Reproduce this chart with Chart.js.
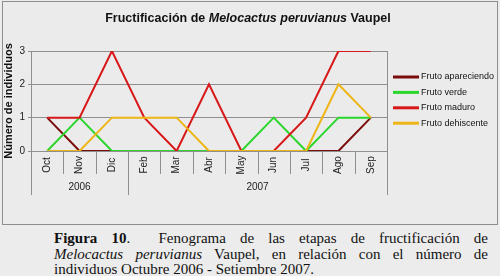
<!DOCTYPE html>
<html>
<head>
<meta charset="utf-8">
<script src="https://cdn.jsdelivr.net/npm/chart.js@4"></script>
<style>
    body { margin: 0; background: #ececec; width: 500px; height: 276px; overflow: hidden; position: relative; font-family: "Liberation Sans", Arial, sans-serif; }
    #frame { position: absolute; left: 2px; top: 1px; width: 494px; height: 222px; border: 1px solid #8e8e8e; background: #ebebeb; }
    #chart { position: absolute; left: 0; top: 0; }
    #title { position: absolute; left: 0; top: 9px; width: 490px; text-align: center; font-weight: bold; font-size: 12.5px; color: #111; }
    #caption { position: absolute; left: 54px; top: 231px; width: 434px; font-family: "Liberation Serif", "Times New Roman", serif; font-size: 15px; line-height: 15.5px; color: #111; }
    #caption div { text-align: justify; text-align-last: justify; white-space: nowrap; }
    #caption div.last { text-align: left; text-align-last: left; }
</style>
</head>
<body>
<div id="frame">
    <canvas id="chart" width="494" height="222"></canvas>
    <div id="title">Fructificación de <i>Melocactus peruvianus</i> Vaupel</div>
</div>
<div id="caption">
    <div><b>Figura 10</b>.&nbsp; Fenograma de las etapas de fructificación de</div>
    <div><i>Melocactus peruvianus</i> Vaupel, en relación con el número de</div>
    <div class="last">individuos Octubre 2006 - Setiembre 2007.</div>
</div>

<script>
const months = ['Oct', 'Nov', 'Dic', 'Feb', 'Mar', 'Abr', 'May', 'Jun', 'Jul', 'Ago', 'Sep'];
const years = ['2006', '2007'];
const yearSpans = [3, 8];
const yTicks = [0, 1, 2, 3];

const frutoApareciendo = [1, 0, 0, 0, 0, 0, 0, 0, 0, 0, 1];
const frutoVerde = [0, 1, 0, 0, 0, 0, 0, 1, 0, 1, 1];
const frutoMaduro = [1, 1, 3, 1, 0, 2, 0, 0, 1, 3, 3];
const frutoDehiscente = [0, 0, 1, 1, 1, 0, 0, 0, 0, 2, 1];

const gridColor = '#8f8f8f';

// eje x con meses y años, y la leyenda a la derecha
const decoPlugin = {
    id: 'deco',
    afterDraw(chart) {
        const ctx = chart.ctx;
        const area = chart.chartArea;
        const x = chart.scales.x;
        const step = (area.right - area.left) / months.length;
        const bottom = area.bottom;

        ctx.save();
        ctx.strokeStyle = gridColor;
        ctx.lineWidth = 1;

        // bordes verticales largos
        [area.left, area.right].forEach(px => {
            ctx.beginPath();
            ctx.moveTo(Math.round(px) + 0.5, area.top);
            ctx.lineTo(Math.round(px) + 0.5, bottom + 44);
            ctx.stroke();
        });

        // separadores entre meses
        let yearBounds = [0];
        yearSpans.forEach(s => yearBounds.push(yearBounds[yearBounds.length - 1] + s));
        for (let i = 1; i < months.length; i++) {
            const px = Math.round(x.getPixelForValue(i) - step / 2) + 0.5;
            const len = yearBounds.includes(i) ? 44 : 23;
            ctx.beginPath();
            ctx.moveTo(px, bottom);
            ctx.lineTo(px, bottom + len);
            ctx.stroke();
        }

        // meses rotados
        ctx.fillStyle = '#222';
        ctx.font = '10px "Liberation Sans", Arial, sans-serif';
        ctx.textAlign = 'center';
        ctx.textBaseline = 'middle';
        months.forEach((m, i) => {
            ctx.save();
            ctx.translate(x.getPixelForValue(i), bottom + 14);
            ctx.rotate(-Math.PI / 2);
            ctx.fillText(m, 0, 0);
            ctx.restore();
        });

        // años
        years.forEach((yr, j) => {
            const a = x.getPixelForValue(yearBounds[j]) - step / 2;
            const b = x.getPixelForValue(yearBounds[j + 1] - 1) + step / 2;
            ctx.fillText(yr, (a + b) / 2, bottom + 36);
        });

        // leyenda
        ctx.textAlign = 'left';
        ctx.font = '9px "Liberation Sans", Arial, sans-serif';
        chart.data.datasets.forEach((ds, i) => {
            const ly = area.top + 26 + i * 15.4;
            ctx.strokeStyle = ds.borderColor;
            ctx.lineWidth = 3;
            ctx.beginPath();
            ctx.moveTo(area.right + 6, ly);
            ctx.lineTo(area.right + 32, ly);
            ctx.stroke();
            ctx.fillStyle = '#111';
            ctx.fillText(ds.label, area.right + 34, ly);
        });
        ctx.restore();
    }
};

const ctx = document.getElementById('chart').getContext('2d');
new Chart(ctx, {
    type: 'line',
    data: {
        labels: months,
        datasets: [
            {label: 'Fruto apareciendo', data: frutoApareciendo, borderColor: '#7a0c0c', order: 4},
            {label: 'Fruto verde', data: frutoVerde, borderColor: '#2bd62b', order: 3},
            {label: 'Fruto maduro', data: frutoMaduro, borderColor: '#d81818', order: 2},
            {label: 'Fruto dehiscente', data: frutoDehiscente, borderColor: '#eeb516', order: 1}
        ]
    },
    options: {
        responsive: false,
        animation: false,
        events: [],
        elements: {
            line: {borderWidth: 2, tension: 0},
            point: {radius: 0}
        },
        layout: {padding: {left: 0, right: 110, top: 49, bottom: 0}},
        plugins: {
            legend: {display: false},
            tooltip: {enabled: false}
        },
        scales: {
            x: {
                offset: true,
                grid: {display: false},
                border: {display: false},
                ticks: {display: false},
                afterFit: function (scale) { scale.height = 73; }
            },
            y: {
                min: 0,
                max: 3,
                afterBuildTicks: function (scale) { scale.ticks = yTicks.map(v => ({value: v})); },
                afterFit: function (scale) { scale.width = 28; },
                grid: {color: gridColor, tickLength: 3},
                border: {color: gridColor},
                ticks: {
                    padding: 3,
                    color: '#222',
                    font: {family: '"Liberation Sans", Arial, sans-serif', size: 10}
                },
                title: {
                    display: true,
                    text: 'Número de individuos',
                    color: '#111',
                    padding: 0,
                    font: {family: '"Liberation Sans", Arial, sans-serif', size: 11, weight: 'bold', lineHeight: 1.1}
                }
            }
        }
    },
    plugins: [decoPlugin]
});
</script>
</body>
</html>
